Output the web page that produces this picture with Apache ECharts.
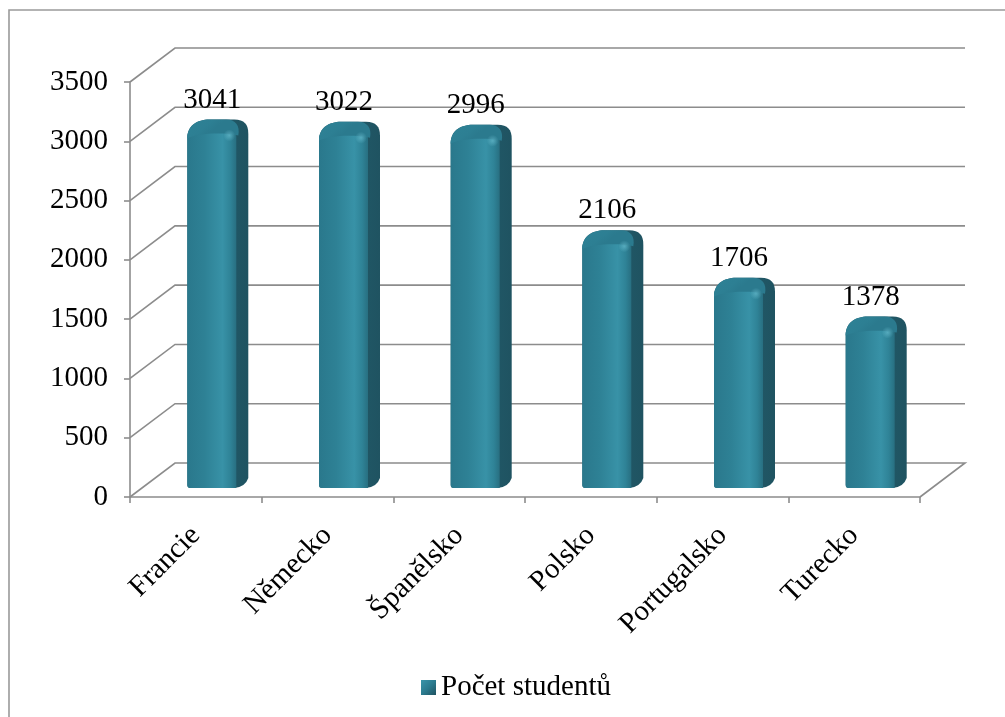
<!DOCTYPE html>
<html>
<head>
<meta charset="utf-8">
<title>Počet studentů</title>
<script src="https://cdn.jsdelivr.net/npm/echarts@6/dist/echarts.min.js"></script>
<style>
  html, body { margin: 0; padding: 0; background: #ffffff; }
  #chart { width: 1005px; height: 717px; }
</style>
</head>
<body>
<div id="chart"></div>
<script>
// Students per destination country
const countries = ['Francie', 'Německo', 'Španělsko', 'Polsko', 'Portugalsko', 'Turecko'];
const students = [3041, 3022, 2996, 2106, 1706, 1378];
const valueTicks = [0, 500, 1000, 1500, 2000, 2500, 3000, 3500];
const seriesName = 'Počet studentů';

const FONT = '"Liberation Serif", "Times New Roman", serif';
const FONT_SIZE = 29;
const GRID_COLOR = '#8c8c8c';
// pseudo-3D depth of the plot box (pixels to the back wall)
const DEPTH_X = 45;
const DEPTH_Y = -34;

// Back-wall gridline for one value: front edge -> back edge -> across the wall
function renderWall(params, api) {
  const cs = params.coordSys;
  const v = api.value(1);
  const y = api.coord([0, v])[1];
  const left = cs.x;
  const right = cs.x + cs.width;
  const pts = [[left, y], [left + DEPTH_X, y + DEPTH_Y], [right + DEPTH_X, y + DEPTH_Y]];
  if (v === 0) pts.push([right, y]); // floor closes on the right
  return {
    type: 'polyline',
    silent: true,
    shape: { points: pts },
    style: { stroke: GRID_COLOR, lineWidth: 1.6, fill: null }
  };
}

function p(x, y) { return x.toFixed(1) + ',' + y.toFixed(1); }

// Rounded cylinder-like column standing in the middle of the depth
function renderColumn(params, api) {
  const i = api.value(0);
  const v = api.value(1);
  const base = api.coord([i, 0]);
  const top = api.coord([i, v]);
  const cx = base[0] + DEPTH_X / 2;
  const yTop = top[1] + DEPTH_Y / 2;
  const yBot = base[1] - 9;
  const x0 = cx - 31, x1 = cx + 18, x2 = cx + 30;

  // whole outline, dark: shows as the right-hand side face
  const silhouette =
    'M' + p(x0, yBot - 3) +
    ' L' + p(x0, yTop + 18) +
    ' C' + p(x0, yTop + 6) + ' ' + p(x0 + 10, yTop) + ' ' + p(x0 + 22, yTop) +
    ' L' + p(x2 - 14, yTop) +
    ' C' + p(x2 - 4, yTop) + ' ' + p(x2, yTop + 5) + ' ' + p(x2, yTop + 14) +
    ' L' + p(x2, yBot - 10) +
    ' Q' + p(x2 - 3, yBot - 1) + ' ' + p(x1 - 2, yBot) +
    ' L' + p(x0 + 3, yBot) +
    ' Q' + p(x0, yBot) + ' ' + p(x0, yBot - 3) + ' Z';

  // front face
  const front =
    'M' + p(x0, yBot - 3) +
    ' L' + p(x0, yTop + 18) +
    ' C' + p(x0, yTop + 11) + ' ' + p(x0 + 5, yTop + 7) + ' ' + p(x0 + 14, yTop + 7) +
    ' L' + p(x1 - 4, yTop + 8) +
    ' Q' + p(x1, yTop + 9) + ' ' + p(x1, yTop + 15) +
    ' L' + p(x1, yBot) +
    ' L' + p(x0 + 3, yBot) +
    ' Q' + p(x0, yBot) + ' ' + p(x0, yBot - 3) + ' Z';

  // top surface of the rounded cap
  const cap =
    'M' + p(x0, yTop + 19) +
    ' C' + p(x0, yTop + 6) + ' ' + p(x0 + 10, yTop) + ' ' + p(x0 + 22, yTop) +
    ' L' + p(x1 - 10, yTop) +
    ' C' + p(x1 - 1, yTop) + ' ' + p(x1 + 4, yTop + 6) + ' ' + p(x1 + 2, yTop + 16) +
    ' C' + p(x1 - 10, yTop + 13) + ' ' + p(x0 + 10, yTop + 13) + ' ' + p(x0, yTop + 19) + ' Z';

  return {
    type: 'group',
    children: [
      {
        type: 'path',
        shape: { pathData: silhouette },
        style: {
          fill: {
            type: 'linear', x: 0, y: 0, x2: 1, y2: 0,
            colorStops: [
              { offset: 0, color: '#246272' },
              { offset: 1, color: '#1f5361' }
            ]
          }
        }
      },
      {
        type: 'path',
        shape: { pathData: front },
        style: {
          fill: {
            type: 'linear', x: 0, y: 0, x2: 1, y2: 0,
            colorStops: [
              { offset: 0, color: '#2a788c' },
              { offset: 0.35, color: '#2e8195' },
              { offset: 0.72, color: '#3892a7' },
              { offset: 0.88, color: '#2f8397' },
              { offset: 1, color: '#286f81' }
            ]
          }
        }
      },
      {
        type: 'path',
        shape: { pathData: cap },
        style: {
          fill: {
            type: 'linear', x: 0, y: 0, x2: 0.3, y2: 1,
            colorStops: [
              { offset: 0, color: '#2e8296' },
              { offset: 0.7, color: '#2d7f93' },
              { offset: 1, color: '#2b7a8e' }
            ]
          }
        }
      },
      {
        type: 'circle',
        shape: { cx: x1 - 7, cy: yTop + 16, r: 6 },
        style: {
          fill: {
            type: 'radial', x: 0.5, y: 0.5, r: 0.5,
            colorStops: [
              { offset: 0, color: 'rgba(130,215,232,0.45)' },
              { offset: 1, color: 'rgba(130,215,232,0)' }
            ]
          }
        }
      },
      {
        type: 'text',
        x: cx - 6,
        y: yTop - 5,
        style: {
          text: String(v),
          font: FONT_SIZE + 'px ' + FONT,
          fill: '#000000',
          align: 'center',
          verticalAlign: 'bottom'
        }
      }
    ]
  };
}

const chart = echarts.init(document.getElementById('chart'), null, { renderer: 'canvas' });

chart.setOption({
  backgroundColor: '#ffffff',
  animation: false,
  textStyle: { fontFamily: FONT },
  graphic: [
    {
      type: 'rect',
      silent: true,
      shape: { x: 9, y: 10, width: 1010, height: 730 },
      style: { fill: null, stroke: '#9a9a9a', lineWidth: 1.6 }
    }
  ],
  grid: { left: 130, top: 82, width: 790, height: 415 },
  legend: {
    data: [seriesName],
    left: 421,
    top: 673,
    padding: 0,
    icon: 'rect',
    itemWidth: 15,
    itemHeight: 15,
    itemGap: 10,
    textStyle: { fontSize: FONT_SIZE, fontFamily: FONT, color: '#000000' }
  },
  xAxis: {
    type: 'category',
    data: countries,
    boundaryGap: true,
    axisLine: { show: true, lineStyle: { color: GRID_COLOR, width: 1.6 } },
    axisTick: { show: true, length: 6, lineStyle: { color: GRID_COLOR, width: 1.6 } },
    axisLabel: {
      interval: 0,
      rotate: 45,
      margin: 34,
      fontSize: FONT_SIZE,
      fontFamily: FONT,
      color: '#000000'
    },
    splitLine: { show: false }
  },
  yAxis: {
    type: 'value',
    min: valueTicks[0],
    max: valueTicks[valueTicks.length - 1],
    interval: valueTicks[1] - valueTicks[0],
    axisLine: { show: true, lineStyle: { color: GRID_COLOR, width: 1.6 } },
    axisTick: { show: true, length: 6, lineStyle: { color: GRID_COLOR, width: 1.6 } },
    axisLabel: {
      margin: 22,
      fontSize: FONT_SIZE,
      fontFamily: FONT,
      color: '#000000',
      formatter: function (val) { return String(val); }
    },
    splitLine: { show: false }
  },
  series: [
    {
      type: 'custom',
      name: 'wall',
      silent: true,
      z: 1,
      renderItem: renderWall,
      data: valueTicks.map(function (t) { return [0, t]; })
    },
    {
      type: 'custom',
      name: seriesName,
      z: 5,
      itemStyle: {
        color: {
          type: 'linear', x: 0, y: 0, x2: 1, y2: 1,
          colorStops: [
            { offset: 0, color: '#3a95aa' },
            { offset: 0.5, color: '#2b7b8f' },
            { offset: 1, color: '#1f5260' }
          ]
        }
      },
      renderItem: renderColumn,
      data: students.map(function (s, i) { return [i, s]; })
    }
  ]
});
</script>
</body>
</html>
